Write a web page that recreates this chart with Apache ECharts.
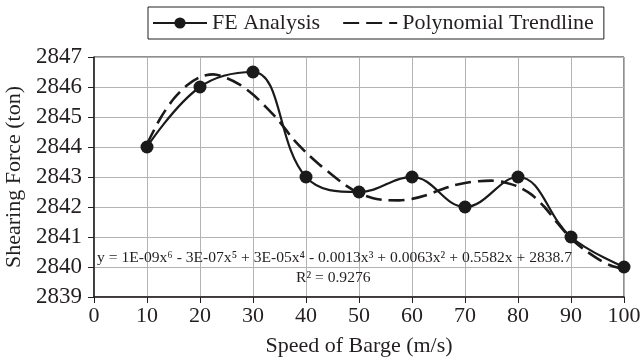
<!DOCTYPE html>
<html><head><meta charset="utf-8">
<script src="https://cdn.jsdelivr.net/npm/echarts@6/dist/echarts.min.js"></script>
<style>html,body{margin:0;padding:0;background:#fff}#c{width:640px;height:363px}</style>
</head><body><div id="c"></div>
<script>
var speeds = [10, 20, 30, 40, 50, 60, 70, 80, 90, 100];
var feForce = [2844, 2846, 2846.5, 2843, 2842.5, 2843, 2842, 2843, 2841, 2840];
var trendX = [10,12.5,15,17.5,20,22.5,25,27.5,30,32.5,35,37.5,40,42.5,45,47.5,50,52.5,55,57.5,60,62.5,65,67.5,70,72.5,75,77.5,80,82.5,85,87.5,90,92.5,95,97.5,100];
var trendY = [2844.1,2844.95,2845.6,2846.05,2846.33,2846.42,2846.3,2846.08,2845.75,2845.32,2844.85,2844.28,2843.82,2843.42,2843.06,2842.72,2842.46,2842.3,2842.23,2842.22,2842.27,2842.38,2842.55,2842.7,2842.8,2842.86,2842.88,2842.82,2842.68,2842.42,2842.0,2841.45,2840.95,2840.58,2840.28,2840.05,2839.93];
var xTicks = [0,10,20,30,40,50,60,70,80,90,100];
var yTicks = [2839,2840,2841,2842,2843,2844,2845,2846,2847];
var equation = 'y = 1E-09x\u2076 - 3E-07x\u2075 + 3E-05x\u2074 - 0.0013x\u00B3 + 0.0063x\u00B2 + 0.5582x + 2838.7';
var rSquared = 'R\u00B2 = 0.9276';

var FONT = '"Liberation Serif", "Times New Roman", serif';
var chart = echarts.init(document.getElementById('c'), null, {renderer: 'canvas'});
chart.setOption({
  animation: false,
  backgroundColor: '#fff',
  textStyle: {fontFamily: FONT, color: '#231f20'},
  grid: {left: 94, right: 16, top: 57, bottom: 66, show: true, borderColor: '#231f20', borderWidth: 1, containLabel: false, outerBoundsMode: 'none'},
  legend: {
    top: 7, left: 148,
    padding: [5, 10, 5, 4],
    itemGap: 22,
    itemWidth: 54, itemHeight: 14,
    borderColor: '#231f20', borderWidth: 1,
    textStyle: {fontFamily: FONT, fontSize: 22, color: '#231f20'},
    data: [
      {name: 'FE Analysis'},
      {name: 'Polynomial Trendline', itemStyle: {color: 'rgba(0,0,0,0)', borderWidth: 0, opacity: 0}}
    ]
  },
  xAxis: {
    type: 'value', min: xTicks[0], max: xTicks[xTicks.length-1], interval: 10,
    name: 'Speed of Barge (m/s)', nameLocation: 'middle', nameGap: 38,
    nameTextStyle: {fontFamily: FONT, fontSize: 22, color: '#231f20'},
    axisLine: {show: true, lineStyle: {color: '#231f20', width: 1.5}},
    axisTick: {show: true, length: 6, inside: false, lineStyle: {color: '#231f20'}},
    axisLabel: {fontFamily: FONT, fontSize: 22, color: '#231f20', margin: 8},
    splitLine: {show: true, lineStyle: {color: '#b3b3b3', width: 1}}
  },
  yAxis: {
    type: 'value', min: yTicks[0], max: yTicks[yTicks.length-1], interval: 1,
    name: 'Shearing Force (ton)', nameLocation: 'middle', nameGap: 56,
    nameTextStyle: {fontFamily: FONT, fontSize: 22, color: '#231f20'},
    axisLine: {show: true, lineStyle: {color: '#231f20', width: 1.5}},
    axisTick: {show: true, length: 6, lineStyle: {color: '#231f20'}},
    axisLabel: {fontFamily: FONT, fontSize: 23, color: '#231f20', margin: 12, formatter: function(v){ return String(v); }},
    splitLine: {show: true, lineStyle: {color: '#b3b3b3', width: 1}}
  },
  series: [
    {
      name: 'FE Analysis', type: 'line', smooth: 0.4,
      data: speeds.map(function(s, i){ return [s, feForce[i]]; }),
      symbol: 'circle', symbolSize: 13,
      lineStyle: {color: '#1a1a1a', width: 2.2},
      itemStyle: {color: '#1a1a1a'},
      z: 3
    },
    {
      name: 'Polynomial Trendline', type: 'line', smooth: 0.3,
      data: trendX.map(function(s, i){ return [s, trendY[i]]; }),
      symbol: 'none', showSymbol: false,
      lineStyle: {color: '#1a1a1a', width: 2.6, type: [16, 7]},
      itemStyle: {color: '#1a1a1a'},
      z: 2
    }
  ],
  graphic: [
    {type: 'text', left: 97, top: 250, z: 10, style: {text: equation, font: '15.6px ' + FONT, fill: '#231f20'}},
    {type: 'text', left: 296, top: 270, z: 10, style: {text: rSquared, font: '15.6px ' + FONT, fill: '#231f20'}}
  ]
});
</script></body></html>
